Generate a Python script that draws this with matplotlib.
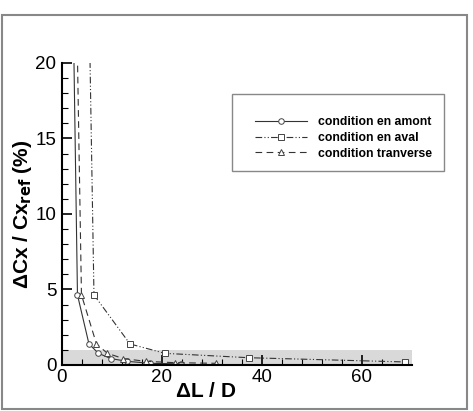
import matplotlib
matplotlib.use('Agg')
import matplotlib.pyplot as plt
from matplotlib.patches import Rectangle

plt.rcParams['font.family'] = ['Liberation Sans', 'DejaVu Sans']
plt.rcParams['mathtext.default'] = 'regular'

# donnees (premier point hors cadre, y=40)
amont_x = [1.5, 3.1, 5.4, 7.3, 9.8, 13.1, 17.6, 23.8]
amont_y = [40, 4.64, 1.39, 0.77, 0.42, 0.24, 0.11, 0.07]
aval_x = [4.6, 6.4, 13.6, 20.6, 37.4, 68.6]
aval_y = [40, 4.64, 1.39, 0.77, 0.48, 0.2]
trans_x = [2.1, 3.9, 6.9, 9.1, 12.3, 16.8, 22.7, 30.9]
trans_y = [40, 4.64, 1.39, 0.77, 0.42, 0.24, 0.15, 0.11]
labels = ['condition en amont', 'condition en aval', 'condition tranverse']
band_top = 1.0

fig = plt.figure(figsize=(4.73, 4.11), dpi=100)
ax = fig.add_axes([0.131, 0.112, 0.74, 0.735])

ax.axhspan(0, band_top, color='#d9d9d9', lw=0, zorder=0)

mk = dict(markerfacecolor='white', markeredgecolor='#444444', markeredgewidth=0.7, markersize=4)
ax.plot(amont_x, amont_y, '-', color='#333333', lw=0.8, marker='o', label=labels[0], **mk)
ax.plot(aval_x, aval_y, color='#333333', lw=0.8, dashes=[6, 2, 1, 2, 1, 2], marker='s', label=labels[1], **mk)
ax.plot(trans_x, trans_y, color='#333333', lw=0.8, dashes=[6, 4], marker='^', label=labels[2], **mk)

ax.set_xlim(0, 70)
ax.set_ylim(0, 20)
ax.set_xticks([0, 20, 40, 60])
ax.set_xticks(range(0, 71, 4), minor=True)
ax.set_yticks([0, 5, 10, 15, 20])
ax.set_yticks(range(0, 21), minor=True)
ax.tick_params(which='both', direction='in', labelsize=13.5, width=1.2)
ax.tick_params(axis='x', pad=3)
ax.tick_params(axis='y', pad=4)
ax.tick_params(which='major', length=7)
ax.tick_params(which='minor', length=4, width=0.8)
ax.spines['top'].set_visible(False)
ax.spines['right'].set_visible(False)
ax.spines['left'].set_linewidth(1.5)
ax.spines['bottom'].set_linewidth(1.5)

ax.set_xlabel(r'$\Delta$L / D', fontsize=15, fontweight='bold')
ax.xaxis.set_label_coords(0.41, -0.058)
ax.set_ylabel(r'$\Delta$Cx / Cx$_{\mathbf{ref}}$ (%)', fontsize=15, fontweight='bold')
ax.yaxis.set_label_coords(-0.08, 0.5)

# cadre de la legende
ax.add_patch(Rectangle((0.486, 0.643), 0.605, 0.254, transform=ax.transAxes,
                       fill=False, edgecolor='#888888', lw=1, clip_on=False))
leg = ax.legend(loc='upper left', bbox_to_anchor=(0.535, 0.843), frameon=False,
                prop={'weight': 'bold', 'size': 8.8}, handlelength=4.2,
                labelspacing=0.3, handletextpad=0.9, borderpad=0)

# cadre de la figure
fig.patches.append(Rectangle((2 / 473, 2 / 411), 465 / 473, 394 / 411, transform=fig.transFigure,
                             fill=False, edgecolor='#888888', lw=1.5))

plt.savefig('out.png', dpi=100)
